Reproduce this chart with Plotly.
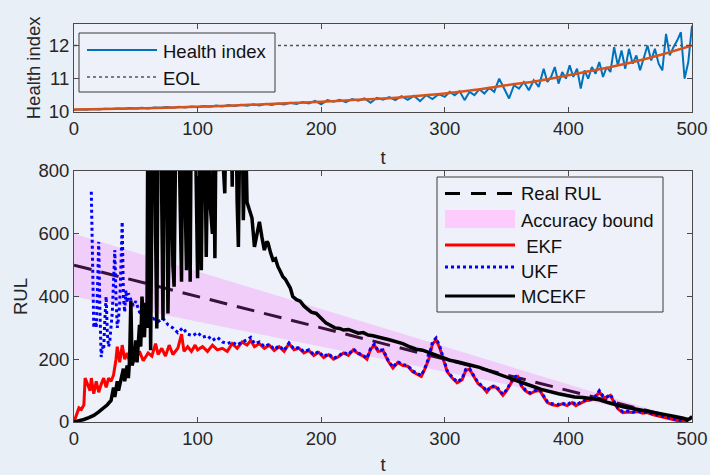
import plotly.graph_objects as go

# ---------------- data ----------------
hi_t = list(range(0, 300, 5)) + list(range(300, 380, 4)) + list(range(380, 501, 3))
health_index = [
    10.05, 10.07, 10.06, 10.08, 10.07, 10.09, 10.08, 10.10, 10.09, 10.11,
    10.10, 10.12, 10.10, 10.13, 10.12, 10.14, 10.12, 10.15, 10.13, 10.16,
    10.14, 10.17, 10.15, 10.19, 10.16, 10.20, 10.17, 10.21, 10.18, 10.22,
    10.19, 10.24, 10.20, 10.25, 10.22, 10.27, 10.23, 10.29, 10.25, 10.33,
    10.22, 10.35, 10.30, 10.36, 10.29, 10.38, 10.33, 10.40, 10.27, 10.42,
    10.36, 10.44, 10.35, 10.47, 10.36, 10.48, 10.32, 10.50, 10.38, 10.53,
    10.45, 10.60, 10.50, 10.62, 10.35, 10.60, 10.50, 10.68, 10.55, 10.72,
    10.60, 11.00, 10.70, 10.40, 10.80, 10.70, 10.90, 10.65, 10.95, 10.75,
    11.30, 10.90, 11.05, 11.35, 10.85, 11.20, 11.00, 11.40, 11.05, 11.30,
    10.70, 11.25, 11.00, 11.35, 11.15, 11.50, 11.05, 11.35, 11.20, 11.95,
    11.40, 11.85, 11.30, 11.90, 11.45, 11.70, 11.25, 11.60, 12.00, 11.55,
    11.90, 11.45, 11.25, 12.35, 11.70, 11.95, 12.15, 12.40, 11.00, 11.50,
    12.60]
fit_t = list(range(0, 501, 25))
fit_hi = [10.07, 10.085, 10.10, 10.12, 10.15, 10.18, 10.22, 10.26, 10.30, 10.35,
          10.40, 10.47, 10.55, 10.66, 10.80, 10.93, 11.10, 11.28, 11.48, 11.72, 12.00]
eol_t = [0, 500]
eol_level = [12, 12]

rul_t = [0, 500]
real_rul = [500, 0]
bound_upper = [600, 0]
bound_lower = [400, 0]

ekf_t = [0, 2, 4, 6, 8, 9, 11, 13, 14, 16,
         18, 20, 22, 24, 26, 28, 30, 32, 34, 35,
         37, 39, 41, 43, 45, 47, 50, 53, 56, 60,
         63, 66, 68, 71, 74, 77, 80, 84, 87, 89,
         92, 95, 98, 100, 104, 108, 112, 116, 120, 124,
         128, 132, 136, 140, 143, 146, 150, 154, 158, 162,
         166, 170, 174, 178, 182, 186, 190, 194, 198, 202,
         206, 210, 214, 218, 222, 226, 230, 234, 237, 240,
         243, 246, 250, 254, 258, 262, 266, 270, 274, 278,
         281, 284, 287, 290, 293, 296, 299, 302, 306, 310,
         314, 317, 320, 324, 327, 331, 334, 337, 341, 344,
         347, 350, 353, 356, 359, 362, 365, 369, 373, 377,
         380, 383, 387, 391, 395, 399, 403, 406, 410, 414,
         418, 422, 425, 428, 431, 434, 437, 440, 444, 448,
         452, 456, 460, 464, 468, 472, 476, 480, 484, 488,
         492, 495, 498, 500]
ekf_rul = [0, 20, 45, 40, 55, 140, 120, 100, 140, 90,
           130, 95, 120, 140, 110, 140, 130, 150, 200, 240,
           190, 245, 200, 220, 190, 215, 200, 225, 195, 220,
           210, 250, 215, 235, 210, 245, 215, 235, 280, 225,
           240, 225, 245, 230, 240, 225, 245, 230, 235, 225,
           250, 235, 255, 245, 260, 240, 250, 235, 245, 228,
           240, 225, 250, 230, 235, 220, 228, 212, 222, 205,
           215, 200, 208, 220, 212, 230, 218, 210, 200, 232,
           245, 225, 228, 195, 172, 190, 180, 178, 160, 150,
           145, 170, 200, 248, 262, 235, 200, 160, 140, 125,
           135, 165, 168, 140, 122, 110, 95, 110, 112, 100,
           85, 100, 120, 140, 145, 115, 100, 90, 98, 100,
           80, 62, 55, 52, 58, 52, 62, 52, 60, 68,
           70, 80, 96, 80, 78, 85, 62, 42, 30, 32,
           30, 33, 28, 30, 24, 20, 18, 14, 8, 5,
           3, 6, 10, 15]

ukf_t = [14, 15, 16, 17, 18, 19, 20, 21, 22, 23,
         24, 25, 26, 27, 28, 29, 30, 31, 32, 33,
         34, 35, 36, 37, 38, 39, 40, 41, 42, 43,
         44, 46, 48, 50, 53, 56, 60, 64, 68, 72,
         76, 80, 84, 88, 92, 96, 100, 104, 108, 112,
         116, 120, 124, 128, 132, 136, 140, 143, 146, 150,
         154, 158, 162, 166, 170, 174, 178, 182, 186, 190,
         194, 198, 202, 206, 210, 214, 218, 222, 226, 230,
         234, 237, 240, 243, 246, 250, 254, 258, 262, 266,
         270, 274, 278, 281, 284, 287, 290, 293, 296, 299,
         302, 306, 310, 314, 317, 320, 324, 327, 331, 334,
         337, 341, 344, 347, 350, 353, 356, 359, 362, 365,
         369, 373, 377, 380, 383, 387, 391, 395, 399, 403,
         406, 410, 414, 418, 422, 425, 428, 431, 434, 437,
         440, 444, 448, 452, 456, 460, 464, 468, 472, 476,
         480, 484, 488, 492, 495, 498, 500]
ukf_rul = [734, 500, 300, 330, 300, 420, 574, 350, 207, 240,
           230, 330, 400, 280, 240, 260, 300, 350, 450, 548,
           400, 300, 330, 380, 500, 638, 400, 350, 420, 380,
           410, 390, 370, 385, 350, 340, 325, 330, 320, 330,
           310, 300, 285, 300, 280, 275, 285, 270, 275, 260,
           270, 255, 250, 255, 245, 255, 262, 270, 250, 255,
           240, 248, 232, 243, 228, 252, 233, 238, 224, 230,
           215, 225, 208, 218, 203, 210, 222, 215, 232, 220,
           212, 203, 235, 248, 228, 230, 198, 175, 192, 183,
           180, 163, 153, 148, 173, 205, 255, 268, 240, 203,
           163, 143, 128, 138, 168, 170, 143, 125, 113, 98,
           113, 115, 103, 88, 103, 123, 143, 148, 118, 103,
           93, 100, 103, 83, 65, 58, 55, 60, 55, 65,
           55, 63, 70, 73, 83, 100, 83, 80, 88, 65,
           45, 33, 35, 32, 35, 30, 32, 26, 22, 20,
           16, 10, 7, 5, 8, 12, 18]

mcekf_t = [0, 4, 8, 12, 16, 20, 24, 27, 30, 32,
           33, 35, 36, 38, 40, 41, 43, 44, 45, 46,
           47, 49, 50, 51, 53, 54, 55, 56, 57, 58,
           59, 60, 61, 62, 63, 65, 66, 67, 68, 70,
           71, 72, 73, 74, 75, 76, 77, 78, 79, 80,
           81, 82, 83, 84, 85, 87, 88, 89, 90, 91,
           92, 93, 94, 95, 96, 98, 99, 100, 101, 102,
           103, 104, 105, 107, 108, 109, 110, 112, 113, 114,
           115, 116, 117, 119, 120, 121, 122, 123, 124, 125,
           126, 127, 128, 129, 130, 131, 132, 133, 134, 135,
           136, 137, 138, 139, 140, 142, 144, 146, 148, 150,
           152, 154, 156, 157, 159, 161, 163, 165, 167, 169,
           171, 173, 175, 177, 180, 183, 186, 189, 192, 196,
           200, 204, 207, 211, 215, 218, 222, 226, 230, 234,
           238, 242, 246, 250, 255, 261, 266, 272, 277, 282,
           287, 293, 298, 304, 310, 316, 322, 328, 334, 340,
           346, 352, 358, 364, 371, 378, 385, 392, 398, 405,
           412, 418, 425, 432, 439, 445, 452, 459, 466, 472,
           479, 486, 493, 496, 498, 500]
mcekf_rul = [0, 3, 8, 14, 21, 32, 44, 55, 69, 110,
             80, 130, 100, 140, 170, 130, 180, 140, 200, 387,
             180, 210, 260, 190, 310, 240, 400, 330, 270, 380,
             300, 1200, 500, 229, 700, 1300, 600, 298, 900, 1400,
             700, 325, 1000, 1500, 800, 346, 600, 1100, 900, 500,
             431, 800, 1000, 1200, 900, 447, 1000, 1200, 700, 484,
             800, 1000, 447, 1100, 900, 1000, 600, 458, 900, 1100,
             484, 700, 1200, 526, 900, 1100, 700, 600, 900, 522,
             1000, 1100, 800, 900, 1000, 800, 729, 1000, 850, 1100,
             900, 1000, 750, 1200, 900, 1000, 700, 558, 900, 850,
             1000, 643, 800, 900, 700, 675, 650, 558, 600, 638,
             590, 548, 575, 570, 540, 516, 520, 495, 480, 463,
             455, 440, 427, 400, 390, 385, 370, 360, 350, 346,
             330, 315, 309, 300, 298, 293, 295, 288, 283, 285,
             277, 275, 270, 267, 262, 255, 250, 239, 232, 229,
             222, 213, 205, 197, 192, 187, 180, 174, 166, 157,
             148, 140, 133, 125, 114, 104, 96, 90, 85, 80,
             78, 75, 71, 62, 53, 48, 43, 38, 35, 30,
             25, 18, 12, 8, 10, 15]

x_ticks = [0, 100, 200, 300, 400, 500]
hi_ticks = [10, 11, 12]
rul_ticks = [0, 200, 400, 600, 800]

# ---------------- style ----------------
FONT = "Liberation Sans, Arial, Helvetica, sans-serif"
FS = 18.5
TXT = "#262626"
AX = "#4a4a4a"
BG_PLOT = "#eef1f9"
BG_PAPER = "#e9eff7"
C_HI = "#0072BD"
C_FIT = "#D95319"
PINK = "rgba(255,80,255,0.22)"

W, H = 710, 475
ML, MR, MT, MB = 74, 18, 24, 53


def px(x):
    return (x - ML) / (W - ML - MR)


def py(y):
    return (H - MB - y) / (H - MT - MB)


fig = go.Figure()

# top panel
fig.add_trace(go.Scatter(x=hi_t, y=health_index, mode="lines", line=dict(color=C_HI, width=2),
                         name="Health index", showlegend=False, xaxis="x", yaxis="y"))
fig.add_trace(go.Scatter(x=eol_t, y=eol_level, mode="lines", line=dict(color="#555555", width=1.5, dash="dot"),
                         name="EOL", showlegend=False, xaxis="x", yaxis="y"))
fig.add_trace(go.Scatter(x=fit_t, y=fit_hi, mode="lines", line=dict(color=C_FIT, width=2.5, shape="spline"),
                         name="fit", showlegend=False, xaxis="x", yaxis="y"))

# bottom panel
fig.add_trace(go.Scatter(x=rul_t, y=real_rul, mode="lines", line=dict(color="black", width=3, dash="18px,10px"),
                         name="Real RUL", showlegend=False, xaxis="x2", yaxis="y2"))
fig.add_trace(go.Scatter(x=rul_t, y=bound_lower, mode="lines", line=dict(width=0),
                         showlegend=False, hoverinfo="skip", xaxis="x2", yaxis="y2"))
fig.add_trace(go.Scatter(x=rul_t, y=bound_upper, mode="lines", line=dict(width=0), fill="tonexty",
                         fillcolor=PINK, name="Accuracy bound", showlegend=False, xaxis="x2", yaxis="y2"))
fig.add_trace(go.Scatter(x=ekf_t, y=ekf_rul, mode="lines", line=dict(color="#ff0000", width=3),
                         name="EKF", showlegend=False, xaxis="x2", yaxis="y2"))
fig.add_trace(go.Scatter(x=ukf_t, y=ukf_rul, mode="lines", line=dict(color="#0000ff", width=3, dash="dot"),
                         name="UKF", showlegend=False, xaxis="x2", yaxis="y2"))
fig.add_trace(go.Scatter(x=mcekf_t, y=mcekf_rul, mode="lines", line=dict(color="black", width=3.5),
                         name="MCEKF", showlegend=False, xaxis="x2", yaxis="y2"))

axis_common = dict(showline=True, mirror="ticks", linecolor=AX, linewidth=1, ticks="inside",
                   ticklen=5, tickcolor=AX, showgrid=False, zeroline=False, automargin=False,
                   tickfont=dict(family=FONT, size=FS, color=TXT))

top_dom = [py(111.7), 1.0]
bot_dom = [0.0, py(171)]

fig.update_layout(
    width=W, height=H,
    margin=dict(l=ML, r=MR, t=MT, b=MB, pad=0),
    paper_bgcolor=BG_PAPER, plot_bgcolor=BG_PLOT,
    font=dict(family=FONT, size=FS, color=TXT),
    showlegend=False,
    xaxis=dict(domain=[0, 1], range=[0, 500], tickvals=x_ticks, anchor="y",
               title=dict(text="t", standoff=13, font=dict(family=FONT, size=FS, color=TXT)), **axis_common),
    yaxis=dict(domain=top_dom, range=[10, 12.65], tickvals=hi_ticks, anchor="x",
               title=dict(text="Health index", standoff=3, font=dict(family=FONT, size=FS, color=TXT)), **axis_common),
    xaxis2=dict(domain=[0, 1], range=[0, 500], tickvals=x_ticks, anchor="y2",
                title=dict(text="t", standoff=19, font=dict(family=FONT, size=FS, color=TXT)), **axis_common),
    yaxis2=dict(domain=bot_dom, range=[0, 800], tickvals=rul_ticks, anchor="x2",
                title=dict(text="RUL", standoff=5, font=dict(family=FONT, size=FS, color=TXT)), **axis_common),
)

# ---------------- legends (drawn as shapes + text) ----------------
shapes = []
annotations = []


def box(x0, y0, x1, y1):
    shapes.append(dict(type="rect", xref="paper", yref="paper", x0=px(x0), x1=px(x1), y0=py(y1), y1=py(y0),
                       fillcolor=BG_PLOT, line=dict(color="#3a3a3a", width=1), layer="above"))


def sample_line(x0, x1, y, color, width, dash="solid"):
    shapes.append(dict(type="line", xref="paper", yref="paper", x0=px(x0), x1=px(x1), y0=py(y), y1=py(y),
                       line=dict(color=color, width=width, dash=dash), layer="above"))


def label(x, y, text):
    annotations.append(dict(xref="paper", yref="paper", x=px(x), y=py(y), text=text, showarrow=False,
                            xanchor="left", yanchor="middle", font=dict(family=FONT, size=FS, color="#111111")))


# top legend
box(79, 33, 275, 92)
sample_line(87, 157, 50, C_HI, 2)
label(161, 51, "Health index")
sample_line(87, 157, 77, "#555555", 1.5, "dot")
label(161, 78, "EOL")

# bottom legend
box(437, 177, 663, 312)
sample_line(445, 515, 193.5, "black", 3, "15px,11px")
label(519, 193.5, "Real RUL")
shapes.append(dict(type="rect", xref="paper", yref="paper", x0=px(445), x1=px(515), y0=py(228), y1=py(210),
                   fillcolor="#fdccfd", line=dict(width=0), layer="above"))
label(519, 220, "Accuracy bound")
sample_line(445, 515, 245, "#ff0000", 3)
label(519, 246, " EKF")
sample_line(445, 515, 267, "#0000ff", 3, "dot")
label(519, 271, "UKF")
sample_line(445, 515, 296, "black", 3)
label(519, 296.5, "MCEKF")

fig.update_layout(shapes=shapes, annotations=annotations)

fig.write_html("out.html")
